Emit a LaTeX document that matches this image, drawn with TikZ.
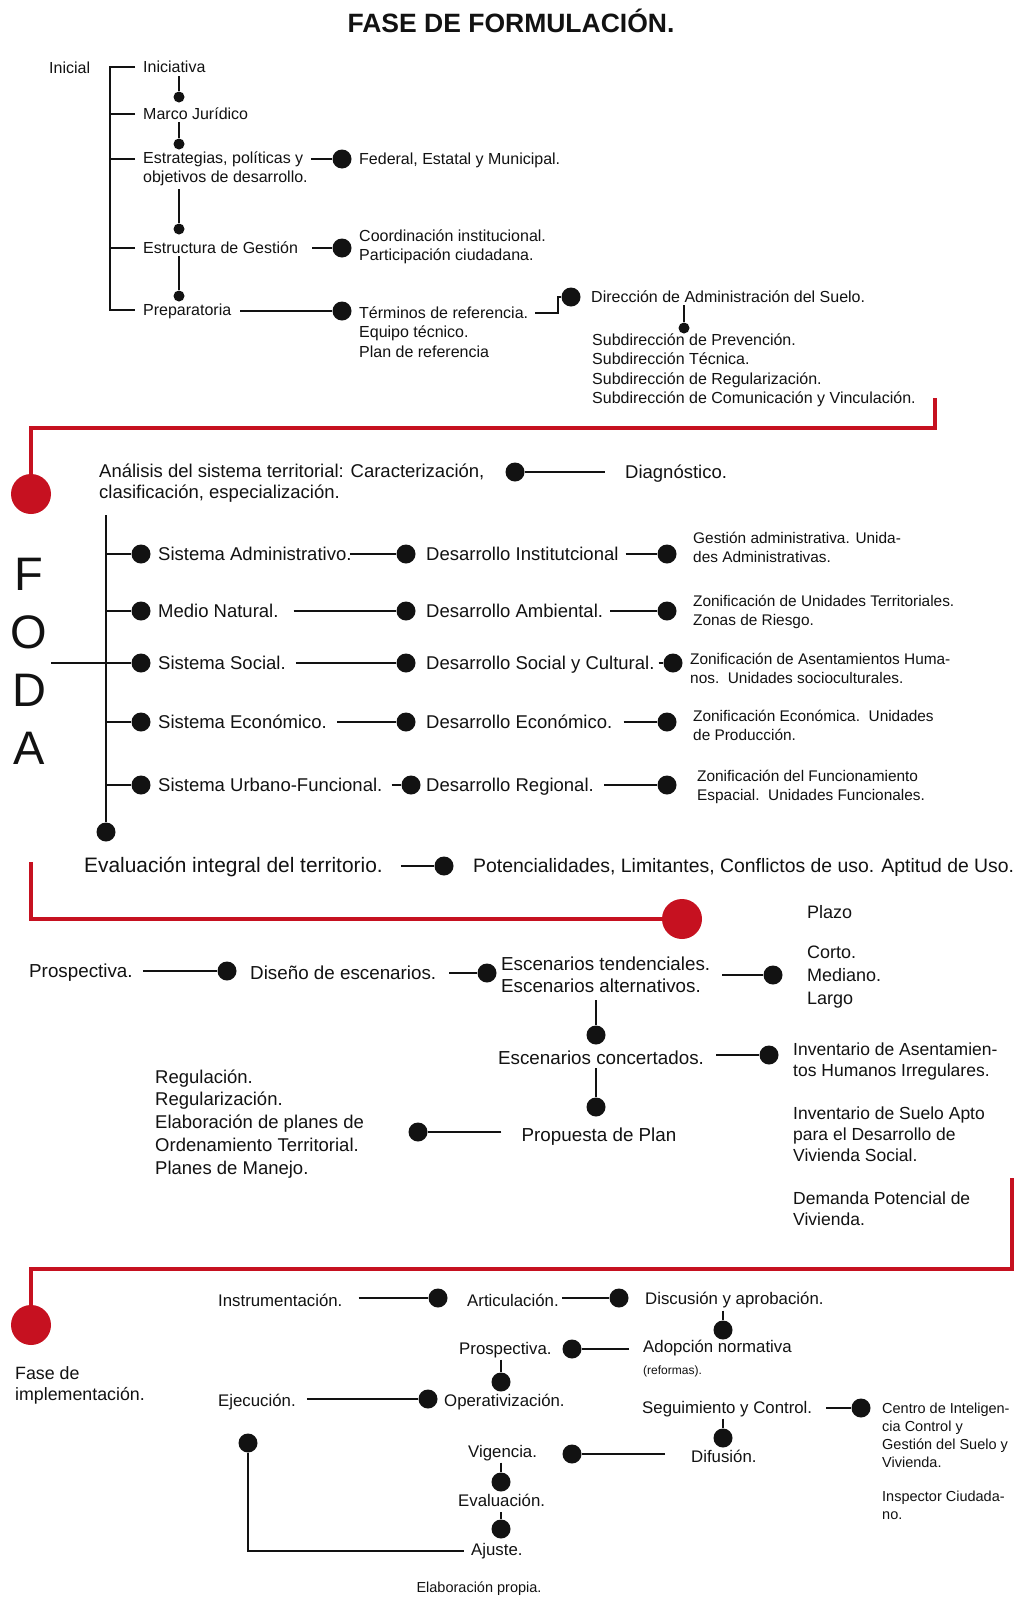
\documentclass[tikz,border=0pt]{standalone}
\usepackage{fontspec}
\setmainfont{Liberation Sans}
\usetikzlibrary{calc}
\definecolor{fred}{RGB}{198,17,32}
\definecolor{ink}{RGB}{18,18,18}
\newcommand\fsz[2]{\fontsize{#1pt}{#2pt}\selectfont}
\begin{document}
% Multi-line text nodes are placed by the baseline of their last line.
\begin{tikzpicture}[x=1pt,y=-1pt,
  txt/.style={anchor=base west, inner sep=0pt, align=left, text=ink},
  ctxt/.style={anchor=base, inner sep=0pt, align=center, text=ink},
  ln/.style={line width=2pt, draw=ink},
  redln/.style={line width=4pt, draw=fred},
  bdot/.style={circle, fill=ink, inner sep=0pt, minimum size=19pt},
  sdot/.style={circle, fill=ink, inner sep=0pt, minimum size=11pt},
  rdot/.style={circle, fill=fred, inner sep=0pt, minimum size=40pt},
  ftop/.style={font=\fsz{16}{19.5}},
  frow/.style={font=\fsz{18.5}{21}},
  fside/.style={font=\fsz{15.4}{19}},
  feval/.style={font=\fsz{19.4}{23}},
  fplazo/.style={font=\fsz{18}{23}},
  fscen/.style={font=\fsz{18.8}{22}},
  finv/.style={font=\fsz{17.5}{21}},
  freg/.style={font=\fsz{18.5}{22.7}},
  fimp/.style={font=\fsz{17.8}{21}},
  fsec/.style={font=\fsz{16.8}{19}},
  fcen/.style={font=\fsz{14.5}{18}}]
\useasboundingbox[fill=white] (0,0) rectangle (1014,1598);

% ---- title ----
\node[ctxt,font=\bfseries\fsz{26.5}{30}] (title) at (511,32.5) {FASE DE FORMULACIÓN.};

% ---- initial stage ----
\node[txt,ftop] (inicial) at (49,73) {Inicial};
\node[txt,ftop] (inic) at (143,72) {Iniciativa};
\node[txt,ftop] (marco) at (143,119) {Marco Jurídico};
\node[txt,ftop] (estr) at (143,182.5) {Estrategias, políticas y\\objetivos de desarrollo.};
\node[txt,ftop] (fed) at (359,164) {Federal, Estatal y Municipal.};
\node[txt,ftop] (gest) at (143,253) {Estructura de Gestión};
\node[txt,ftop] (coord) at (359,260.5) {Coordinación institucional.\\Participación ciudadana.};
\node[txt,ftop] (prep) at (143,315) {Preparatoria};
\node[txt,ftop] (term) at (359,357) {Términos de referencia.\\Equipo técnico.\\Plan de referencia};
\node[txt,ftop] (dir) at (591,302) {Dirección de Administración del Suelo.};
\node[txt,ftop] (sub) at (592,403.5) {Subdirección de Prevención.\\Subdirección Técnica.\\Subdirección de Regularización.\\Subdirección de Comunicación y Vinculación.};

\node[sdot] (d1) at (179,97) {};
\node[sdot] (d2) at (179,144) {};
\node[sdot] (d3) at (179,229) {};
\node[sdot] (d4) at (179,296) {};
\node[bdot] (dfed) at (342,159) {};
\node[bdot] (dcoord) at (342,248) {};
\node[bdot] (dterm) at (342,311) {};
\node[bdot] (ddir) at (571,297) {};
\node[sdot] (dsub) at (684,328) {};

\draw[ln] ($(inic.base west)+(-8,-5)$) -| ($(prep.base west)+(-33,-5)$) -- ($(prep.base west)+(-8,-5)$);
\draw[ln] ($(marco.base west)+(-8,-5)$) -- +(-25,0);
\draw[ln] ($(estr.west|-dfed)+(-8,0)$) -- +(-25,0);
\draw[ln] ($(gest.base west)+(-8,-5)$) -- +(-25,0);
\draw[ln] ($(d1|-inic.south)+(0,4)$) -- (d1);
\draw[ln] ($(d2|-marco.south)+(0,3)$) -- (d2);
\draw[ln] ($(d3|-estr.south)+(0,3)$) -- (d3);
\draw[ln] ($(d4|-gest.south)+(0,3)$) -- (d4);
\draw[ln] ($(estr.east|-dfed)+(3,0)$) -- (dfed);
\draw[ln] ($(gest.east|-dcoord)+(14,0)$) -- (dcoord);
\draw[ln] ($(prep.east|-dterm)+(9,0)$) -- (dterm);
\draw[ln] ($(term.east|-dterm)+(7,2)$) -- ++(23,0) |- (ddir);
\draw[ln] ($(dsub|-dir.south)+(0,3)$) -- (dsub);

\coordinate (r1) at (935,398);
\node[rdot] (rc1) at (31,494) {};
\draw[redln] (r1) -- ++(0,30) -| (rc1);

% ---- territorial analysis (FODA) ----
\node[txt,frow] (anal) at (99,498) {Análisis del sistema territorial: Caracterización,\\clasificación, especialización.};
\node[bdot] (ddiag) at (515,472) {};
\node[txt,frow] (diag) at (625,478) {Diagnóstico.};
\draw[ln] (ddiag) -- ($(diag.west|-ddiag)+(-20,0)$);

\node[ctxt,font=\fsz{47}{58}] (foda) at (29,764) {F\\O\\D\\A};

\coordinate (sptop) at (106,515);
\node[bdot] (spdot) at (106,832) {};
\draw[ln] (sptop) -- (spdot);

% row 1
\node[bdot] (s1) at (141,554) {};
\node[txt,frow] (t1) at (158,560) {Sistema Administrativo.};
\node[bdot] (e1) at (406,554) {};
\node[txt,frow] (u1) at (426,560) {Desarrollo Institutcional};
\node[bdot] (f1) at (667,554) {};
\node[txt,fside] (v1) at (693,562) {Gestión administrativa. Unida-\\des Administrativas.};
\draw[ln] (sptop|-s1) -- (s1);
\draw[ln] ($(t1.east|-e1)+(-2,0)$) -- (e1);
\draw[ln] ($(u1.east|-f1)+(7,0)$) -- (f1);
% row 2
\node[bdot] (s2) at (141,611) {};
\node[txt,frow] (t2) at (158,617) {Medio Natural.};
\node[bdot] (e2) at (406,611) {};
\node[txt,frow] (u2) at (426,617) {Desarrollo Ambiental.};
\node[bdot] (f2) at (667,611) {};
\node[txt,fside] (v2) at (693,625) {Zonificación de Unidades Territoriales.\\Zonas de Riesgo.};
\draw[ln] (sptop|-s2) -- (s2);
\draw[ln] ($(t2.east|-e2)+(15,0)$) -- (e2);
\draw[ln] ($(u2.east|-f2)+(7,0)$) -- (f2);
% row 3
\node[bdot] (s3) at (141,663) {};
\node[txt,frow] (t3) at (158,669) {Sistema Social.};
\node[bdot] (e3) at (406,663) {};
\node[txt,frow] (u3) at (426,669) {Desarrollo Social y Cultural.};
\node[bdot] (f3) at (673,663) {};
\node[txt,fside] (v3) at (690,683) {Zonificación de Asentamientos Huma-\\nos.\ \ Unidades socioculturales.};
\draw[ln] (sptop|-s3) -- (s3);
\draw[ln] ($(t3.east|-e3)+(10,0)$) -- (e3);
\draw[ln] ($(u3.east|-f3)+(4,0)$) -- (f3);
\draw[ln] ($(foda.east|-s3)+(4,0)$) -- (sptop|-s3);
% row 4
\node[bdot] (s4) at (141,722) {};
\node[txt,frow] (t4) at (158,728) {Sistema Económico.};
\node[bdot] (e4) at (406,722) {};
\node[txt,frow] (u4) at (426,728) {Desarrollo Económico.};
\node[bdot] (f4) at (667,722) {};
\node[txt,fside] (v4) at (693,740) {Zonificación Económica.\ \ Unidades\\de Producción.};
\draw[ln] (sptop|-s4) -- (s4);
\draw[ln] ($(t4.east|-e4)+(10,0)$) -- (e4);
\draw[ln] ($(u4.east|-f4)+(11,0)$) -- (f4);
% row 5
\node[bdot] (s5) at (141,785) {};
\node[txt,frow] (t5) at (158,791) {Sistema Urbano-Funcional.};
\node[bdot] (e5) at (411,785) {};
\node[txt,frow] (u5) at (426,791) {Desarrollo Regional.};
\node[bdot] (f5) at (667,785) {};
\node[txt,fside] (v5) at (697,800) {Zonificación del Funcionamiento\\Espacial.\ \ Unidades Funcionales.};
\draw[ln] (sptop|-s5) -- (s5);
\draw[ln] ($(t5.east|-e5)+(9,0)$) -- (e5);
\draw[ln] ($(u5.east|-f5)+(10,0)$) -- (f5);

\node[txt,font=\fsz{20.9}{23}] (evalt) at (84,872) {Evaluación integral del territorio.};
\node[bdot] (deval) at (444,866) {};
\node[txt,feval] (pot) at (473,872) {Potencialidades, Limitantes, Conflictos de uso. Aptitud de Uso.};
\draw[ln] ($(evalt.east|-deval)+(18,0)$) -- (deval);

\coordinate (r2) at (31,862);
\node[rdot] (rc2) at (682,919) {};
\draw[redln] (r2) |- (rc2);

% ---- prospective ----
\node[txt,fplazo] (plazo) at (807,918) {Plazo};
\node[txt,fplazo] (corto) at (807,1004) {Corto.\\Mediano.\\Largo};
\node[txt,fscen] (prosp) at (29,977) {Prospectiva.};
\node[bdot] (dprosp) at (227,971) {};
\draw[ln] ($(prosp.east|-dprosp)+(10,0)$) -- (dprosp);
\node[txt,fscen] (dis) at (250,979) {Diseño de escenarios.};
\node[bdot] (ddis) at (487,973) {};
\draw[ln] ($(dis.east|-ddis)+(13,0)$) -- (ddis);
\node[txt,fscen] (esc) at (501,992) {Escenarios tendenciales.\\Escenarios alternativos.};
\node[bdot] (desc) at (773,975) {};
\draw[ln] ($(esc.east|-desc)+(12,0)$) -- (desc);
\node[bdot] (dconc) at (596,1035) {};
\draw[ln] ($(dconc|-esc.south)+(0,8)$) -- (dconc);
\node[ctxt,fscen] (conc) at (601,1064) {Escenarios concertados.};
\node[bdot] (dinv) at (769,1055) {};
\draw[ln] ($(conc.east|-dinv)+(12,0)$) -- (dinv);
\node[txt,finv] (inv1) at (793,1076) {Inventario de Asentamien-\\tos Humanos Irregulares.};
\node[txt,finv] (inv2) at (793,1161) {Inventario de Suelo Apto\\para el Desarrollo de\\Vivienda Social.};
\node[txt,finv] (inv3) at (793,1225) {Demanda Potencial de\\Vivienda.};
\node[bdot] (dprop) at (596,1107) {};
\draw[ln] ($(dprop|-conc.south)+(0,4)$) -- (dprop);
\node[ctxt,fscen] (prop) at (599,1141) {Propuesta de Plan};
\node[bdot] (dreg) at (418,1132) {};
\draw[ln] ($(prop.west|-dreg)+(-20,0)$) -- (dreg);
\node[txt,freg] (reg) at (155,1174) {Regulación.\\Regularización.\\Elaboración de planes de\\Ordenamiento Territorial.\\Planes de Manejo.};

\coordinate (r3) at (1011.5,1178);
\node[rdot] (rc3) at (31,1325) {};
\draw[redln] (r3) -- ++(0,91) -| (rc3);

% ---- implementation ----
\node[txt,fimp] (fase) at (15,1400) {Fase de\\implementación.};
\node[txt,fsec] (instr) at (218,1306) {Instrumentación.};
\node[bdot] (dinstr) at (438,1298) {};
\draw[ln] ($(instr.east|-dinstr)+(16,0)$) -- (dinstr);
\node[txt,fsec] (art) at (467,1306) {Articulación.};
\node[bdot] (dart) at (619,1298) {};
\draw[ln] ($(art.east|-dart)+(3,0)$) -- (dart);
\node[txt,fsec] (disc) at (645,1304) {Discusión y aprobación.};
\node[bdot] (dadop) at (723,1330) {};
\draw[ln] ($(dadop|-disc.south)+(0,3)$) -- (dadop);
\node[txt,fsec] (adop) at (643,1352) {Adopción normativa};
\node[txt,font=\fsz{12}{14}] (refo) at (643,1374) {(reformas).};
\node[bdot] (dpro2) at (572,1349) {};
\draw[ln] ($(adop.west|-dpro2)+(-14,0)$) -- (dpro2);
\node[txt,fsec] (pro2) at (459,1354) {Prospectiva.};
\node[bdot] (dop) at (501,1382) {};
\draw[ln] ($(dop|-pro2.south)+(0,2)$) -- (dop);
\node[txt,fsec] (oper) at (444,1406) {Operativización.};
\node[txt,fsec] (ejec) at (218,1406) {Ejecución.};
\node[bdot] (doper) at (428,1399) {};
\draw[ln] ($(ejec.east|-doper)+(11,0)$) -- (doper);
\node[txt,fsec] (seg) at (642,1413) {Seguimiento y Control.};
\node[bdot] (dcen) at (861,1408) {};
\draw[ln] ($(seg.east|-dcen)+(14,0)$) -- (dcen);
\node[txt,fcen] (cen) at (882,1467) {Centro de Inteligen-\\cia Control y\\Gestión del Suelo y\\Vivienda.};
\node[txt,fcen] (insp) at (882,1519) {Inspector Ciudada-\\no.};
\node[bdot] (ddif) at (723,1438) {};
\draw[ln] ($(ddif|-seg.south)+(0,2)$) -- (ddif);
\node[txt,fsec] (dif) at (691,1462) {Difusión.};
\node[bdot] (dvig) at (572,1454) {};
\draw[ln] ($(dif.west|-dvig)+(-26,0)$) -- (dvig);
\node[txt,fsec] (vig) at (468,1457) {Vigencia.};
\node[bdot] (dev) at (501,1482) {};
\draw[ln] ($(dev|-vig.south)+(0,2)$) -- (dev);
\node[txt,fsec] (ev) at (458,1506) {Evaluación.};
\node[bdot] (daj) at (501,1529) {};
\draw[ln] ($(daj|-ev.south)+(0,6)$) -- (daj);
\node[txt,fsec] (aj) at (471,1555) {Ajuste.};
\node[bdot] (dej) at (248,1443) {};
\draw[ln] (dej) |- ($(aj.base west)+(-7,-4)$);

\node[ctxt,font=\fsz{14.5}{17}] (src) at (479,1592) {Elaboración propia.};
\end{tikzpicture}
\end{document}
